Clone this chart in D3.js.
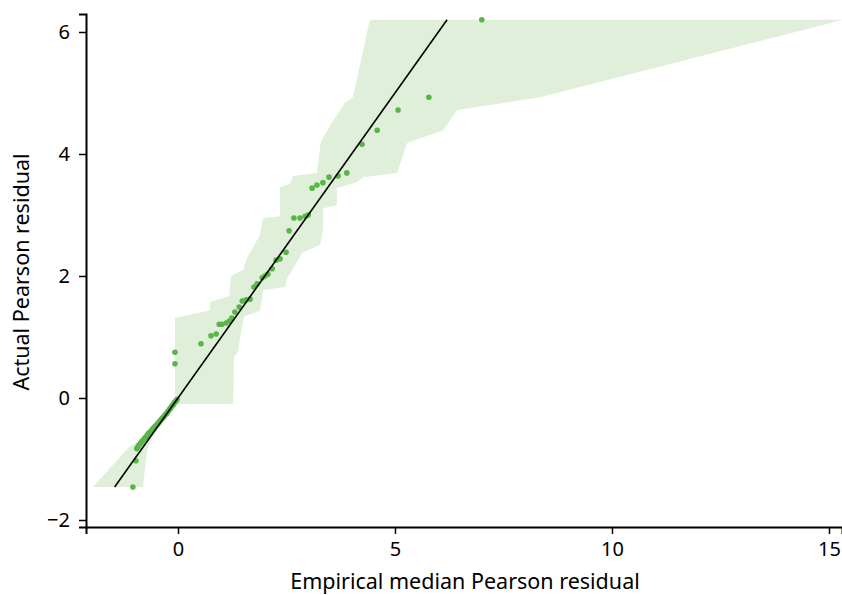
<!DOCTYPE html>
<html>
<head>
<meta charset="utf-8">
<script src="https://cdn.jsdelivr.net/npm/d3@7"></script>
<style>
  html, body { margin: 0; padding: 0; background: #fff; }
  svg { display: block; }
  text { font-family: "Noto Sans", "Open Sans", sans-serif; fill: #000; }
</style>
</head>
<body>
<svg id="chart" width="842" height="595"></svg>
<script>
// Simulation envelope: left (lower) edge, listed top to bottom
const bandLeftX = [4.42, 4.03, 3.85, 3.55, 3.29, 3.20, 2.65, 2.58, 2.35, 2.35, 1.96, 1.89, 1.59, 1.50, 1.22, 1.18, 0.74, 0.74, -0.07, -0.07, -0.65, -0.92, -1.11, -1.96];
const bandLeftY = [6.20, 4.93, 4.84, 4.52, 4.20, 3.69, 3.64, 3.51, 3.46, 2.98, 2.95, 2.67, 2.30, 2.10, 2.00, 1.67, 1.57, 1.44, 1.31, -0.07, -0.56, -0.72, -0.79, -1.46];
// Simulation envelope: right (upper) edge, listed bottom to top
const bandRightX = [-0.81, -0.71, -0.60, -0.30, 0.00, 1.27, 1.29, 1.38, 1.45, 1.52, 1.89, 1.96, 2.47, 2.51, 2.86, 3.27, 3.34, 3.34, 3.66, 3.66, 4.12, 4.26, 5.05, 5.28, 6.11, 6.43, 8.34, 15.32];
const bandRightY = [-1.46, -0.85, -0.66, -0.36, -0.10, -0.10, 0.67, 0.75, 1.07, 1.34, 1.43, 1.77, 1.82, 1.95, 2.38, 2.51, 2.75, 3.11, 3.16, 3.44, 3.54, 3.62, 3.69, 4.18, 4.39, 4.72, 4.93, 6.20];

// Residual pairs: empirical median (x) vs actual (y)
const residX = [
  -1.04, -0.97,
  -0.95, -0.92, -0.90, -0.86, -0.83, -0.80, -0.77, -0.74, -0.71, -0.68, -0.66, -0.63,
  -0.60, -0.57, -0.55, -0.52, -0.49, -0.47, -0.44, -0.41, -0.38, -0.36, -0.33, -0.30,
  -0.27, -0.25, -0.22, -0.19, -0.17, -0.14, -0.11, -0.09, -0.06, -0.04, -0.02,
  -0.07, -0.07, 0.53, 0.76, 0.88,
  0.95, 1.01, 1.11, 1.18, 1.24, 1.31, 1.41, 1.48, 1.57, 1.66, 1.75, 1.82, 1.94, 2.00,
  2.07, 2.17, 2.26, 2.35, 2.49, 2.56, 2.67, 2.81, 2.93, 3.00, 3.09, 3.20, 3.34, 3.48,
  3.69, 3.89, 4.24, 4.59, 5.07, 5.78, 7.00
];
const residY = [
  -1.46, -1.03,
  -0.83, -0.80, -0.77, -0.74, -0.71, -0.69, -0.66, -0.64, -0.61, -0.58, -0.57, -0.55,
  -0.52, -0.50, -0.48, -0.46, -0.44, -0.42, -0.40, -0.37, -0.35, -0.33, -0.31, -0.28,
  -0.26, -0.24, -0.21, -0.18, -0.16, -0.13, -0.11, -0.08, -0.06, -0.04, -0.02,
  0.56, 0.75, 0.89, 1.02, 1.05,
  1.21, 1.21, 1.23, 1.26, 1.31, 1.41, 1.49, 1.59, 1.61, 1.62, 1.82, 1.87, 1.97, 2.00,
  2.03, 2.12, 2.26, 2.28, 2.39, 2.74, 2.95, 2.95, 2.98, 3.00, 3.44, 3.49, 3.53, 3.62,
  3.64, 3.69, 4.16, 4.39, 4.72, 4.93, 6.20
];

// Identity reference line end points
const refLine = [-1.46, 6.20];

const xTicks = [0, 5, 10, 15];
const yTicks = [-2, 0, 2, 4, 6];
const xTitle = "Empirical median Pearson residual";
const yTitle = "Actual Pearson residual";

const svg = d3.select("#chart");
const plotL = 86, plotR = 842, plotT = 14, plotB = 527;

const x = d3.scaleLinear().domain([-2.12, 15.30]).range([plotL, plotR]);
const y = d3.scaleLinear().domain([-2.115, 6.295]).range([plotB, plotT]);

svg.append("defs").append("clipPath").attr("id", "plot-clip")
  .append("rect").attr("x", plotL).attr("y", plotT)
  .attr("width", plotR - plotL).attr("height", plotB - plotT);

const plot = svg.append("g").attr("clip-path", "url(#plot-clip)");

// Envelope polygon
const bandPts = bandLeftX.map((v, i) => [v, bandLeftY[i]])
  .concat(bandRightX.map((v, i) => [v, bandRightY[i]]));
plot.append("path")
  .attr("d", d3.line().x(d => x(d[0])).y(d => y(d[1]))(bandPts) + "Z")
  .attr("fill", "#e0efd9")
  .attr("stroke", "none");

// Points
plot.selectAll("circle.pt")
  .data(residX.map((v, i) => [v, residY[i]]))
  .join("circle")
  .attr("class", "pt")
  .attr("cx", d => x(d[0]))
  .attr("cy", d => y(d[1]))
  .attr("r", 2.8)
  .attr("fill", "#5ab548");

// y = x line
plot.append("line")
  .attr("x1", x(refLine[0])).attr("y1", y(refLine[0]))
  .attr("x2", x(refLine[1])).attr("y2", y(refLine[1]))
  .attr("stroke", "#000").attr("stroke-width", 1.6);

// Axes
const fmt = d => d < 0 ? "\u2212" + Math.abs(d) : String(d);

const xAxis = svg.append("g")
  .attr("transform", `translate(0,${plotB})`)
  .call(d3.axisBottom(x).tickValues(xTicks).tickFormat(fmt).tickSizeOuter(0).tickSize(7).tickPadding(8));
const yAxis = svg.append("g")
  .attr("transform", `translate(${plotL},0)`)
  .call(d3.axisLeft(y).tickValues(yTicks).tickFormat(fmt).tickSizeOuter(0).tickSize(7).tickPadding(9));

[xAxis, yAxis].forEach(g => {
  g.select(".domain").attr("stroke", "#000").attr("stroke-width", 2);
  g.selectAll(".tick line").attr("stroke", "#000").attr("stroke-width", 1.5);
  g.selectAll(".tick text").attr("font-size", 20).attr("fill", "#000")
    .attr("font-family", "'Noto Sans', sans-serif");
});

svg.append("text")
  .attr("x", 465).attr("y", 589)
  .attr("text-anchor", "middle").attr("font-size", 21.5)
  .text(xTitle);

svg.append("text")
  .attr("transform", `translate(29,${272}) rotate(-90)`)
  .attr("text-anchor", "middle").attr("font-size", 21.5)
  .text(yTitle);
</script>
</body>
</html>
